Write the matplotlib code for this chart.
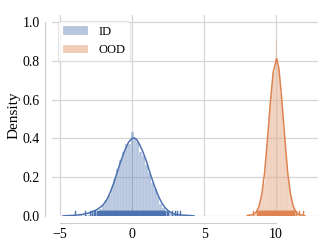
import matplotlib
matplotlib.use("Agg")
import matplotlib.pyplot as plt
import numpy as np

plt.rcParams['font.family'] = 'serif'
plt.rcParams['font.serif'] = ['Liberation Serif', 'DejaVu Serif']
plt.rcParams['font.size'] = 10

# ---- data ----
id_bin_start = -4.7
id_bin_width = 0.2
id_hist = [0.005, 0.0, 0.0, 0.005, 0.0, 0.005, 0.0, 0.005, 0.005, 0.01,
           0.015, 0.02, 0.035, 0.055, 0.08, 0.11, 0.15, 0.19, 0.24, 0.29,
           0.33, 0.37, 0.37, 0.43, 0.40, 0.38, 0.33, 0.31, 0.26, 0.22,
           0.17, 0.14, 0.10, 0.06, 0.04, 0.025, 0.015, 0.01, 0.005, 0.005,
           0.0, 0.0, 0.005, 0.005]

ood_bin_start = 8.1
ood_bin_width = 0.1
ood_hist = [0.01, 0.0, 0.01, 0.02, 0.01, 0.03, 0.04, 0.06, 0.09, 0.12,
            0.17, 0.26, 0.33, 0.42, 0.56, 0.62, 0.70, 0.74, 0.82, 0.90,
            0.78, 0.70, 0.63, 0.55, 0.44, 0.36, 0.27, 0.20, 0.14, 0.10,
            0.06, 0.04, 0.03, 0.02, 0.01, 0.01, 0.0, 0.01]

id_kde_x = [-4.8, -4.0, -3.5, -3.0, -2.5, -2.2, -2.0, -1.75, -1.5, -1.25, -1.0,
            -0.75, -0.5, -0.25, 0.0, 0.15, 0.3, 0.5, 0.75, 1.0, 1.25, 1.5,
            1.75, 2.0, 2.25, 2.5, 2.75, 3.0, 3.5, 4.0, 4.3]
id_kde_y = [0.0, 0.003, 0.007, 0.015, 0.03, 0.045, 0.058, 0.085, 0.125, 0.175,
            0.235, 0.29, 0.34, 0.38, 0.40, 0.402, 0.395, 0.37, 0.33, 0.28,
            0.22, 0.165, 0.115, 0.075, 0.045, 0.027, 0.015, 0.008, 0.004,
            0.002, 0.0]

ood_kde_x = [8.0, 8.4, 8.6, 8.8, 9.0, 9.2, 9.4, 9.6, 9.8, 10.0, 10.05, 10.2,
             10.4, 10.6, 10.8, 11.0, 11.2, 11.4, 11.6, 12.0]
ood_kde_y = [0.002, 0.007, 0.017, 0.045, 0.108, 0.22, 0.39, 0.58, 0.74, 0.80,
             0.81, 0.76, 0.60, 0.41, 0.23, 0.115, 0.048, 0.018, 0.007, 0.001]

id_rug = [-3.96, -3.26, -2.95, -2.78, -2.66, -2.55, -2.47, -2.38, -2.31, -2.24,
          -2.17, -2.13, -2.1, -2.06, -2.02, -1.98, -1.95, -1.91, -1.88, -1.84,
          -1.8, -1.77, -1.73, -1.69, -1.66, -1.62, -1.58, -1.55, -1.51, -1.47,
          -1.44, -1.4, -1.36, -1.33, -1.29, -1.25, -1.21, -1.18, -1.14, -1.1,
          -1.07, -1.03, -0.99, -0.96, -0.92, -0.88, -0.85, -0.81, -0.77, -0.74,
          -0.7, -0.66, -0.62, -0.59, -0.55, -0.51, -0.48, -0.44, -0.4, -0.37,
          -0.33, -0.29, -0.26, -0.22, -0.18, -0.15, -0.11, -0.07, -0.03, 0.0,
          0.04, 0.08, 0.11, 0.15, 0.19, 0.22, 0.26, 0.3, 0.33, 0.37, 0.41,
          0.44, 0.48, 0.52, 0.56, 0.59, 0.63, 0.67, 0.7, 0.74, 0.78, 0.81,
          0.85, 0.89, 0.92, 0.96, 1.0, 1.04, 1.07, 1.11, 1.15, 1.18, 1.22,
          1.26, 1.29, 1.33, 1.37, 1.4, 1.44, 1.48, 1.51, 1.55, 1.59, 1.62,
          1.66, 1.7, 1.73, 1.77, 1.81, 1.85, 1.88, 1.92, 1.96, 1.99, 2.03,
          2.07, 2.1, 2.14, 2.18, 2.21, 2.25, 2.4, 2.52, 2.75, 2.99, 3.15, 3.33]

ood_rug = [8.42, 8.66, 8.78, 8.85, 8.88, 8.92, 8.95, 8.98, 9.02, 9.05, 9.09,
           9.12, 9.15, 9.19, 9.22, 9.25, 9.29, 9.32, 9.36, 9.39, 9.42, 9.46,
           9.49, 9.52, 9.56, 9.59, 9.63, 9.66, 9.69, 9.73, 9.76, 9.79, 9.83,
           9.86, 9.9, 9.93, 9.96, 10.0, 10.03, 10.06, 10.1, 10.13, 10.17,
           10.2, 10.23, 10.27, 10.3, 10.33, 10.37, 10.4, 10.44, 10.47, 10.5,
           10.54, 10.57, 10.6, 10.64, 10.67, 10.71, 10.74, 10.77, 10.81,
           10.84, 10.87, 10.91, 10.94, 10.98, 11.01, 11.04, 11.08, 11.11,
           11.14, 11.18, 11.21, 11.25, 11.27, 11.38, 11.62, 11.85]

labels = ["ID", "OOD"]
colors = ["#4C72B0", "#DD8452"]

# ---- figure ----
fig = plt.figure(figsize=(3.32, 2.49), dpi=100)
ax = fig.add_axes([0.157, 0.133, 0.801, 0.807])

ax.set_axisbelow(True)
ax.grid(True, color="#d5d5d5", linewidth=0.9)

def draw(start, width, hist, kx, ky, rug, color, label):
    centers = start + width * (np.arange(len(hist)) + 0.5)
    ax.bar(centers, hist, width=width, color=color, alpha=0.4,
           edgecolor="white", linewidth=0.25, label=label)
    ax.plot(kx, ky, color=color, linewidth=1.1)
    for r in rug:
        ax.axvline(r, ymin=0, ymax=0.025, color=color, linewidth=1.0)

draw(id_bin_start, id_bin_width, id_hist, id_kde_x, id_kde_y, id_rug,
     colors[0], labels[0])
draw(ood_bin_start, ood_bin_width, ood_hist, ood_kde_x, ood_kde_y, ood_rug,
     colors[1], labels[1])

ax.set_xlim(-5.56, 12.92)
ax.set_ylim(0, 1.036)
ax.set_xticks([-5, 0, 5, 10])
ax.set_yticks([0.0, 0.2, 0.4, 0.6, 0.8, 1.0])
ax.set_ylabel("Density", fontsize=11, labelpad=1)
ax.tick_params(length=0, pad=4, labelsize=10)

for s in ["top", "right"]:
    ax.spines[s].set_visible(False)
for s in ["left", "bottom"]:
    ax.spines[s].set_color("#cccccc")
    ax.spines[s].set_position(("outward", 5))
ax.spines["left"].set_bounds(0, 1.0)
ax.spines["bottom"].set_bounds(-5, 10)

leg = ax.legend(loc="upper left", frameon=True, fontsize=9,
                edgecolor="#dddddd", fancybox=True)
leg.get_frame().set_linewidth(0.8)

fig.savefig("out.png", dpi=100)
